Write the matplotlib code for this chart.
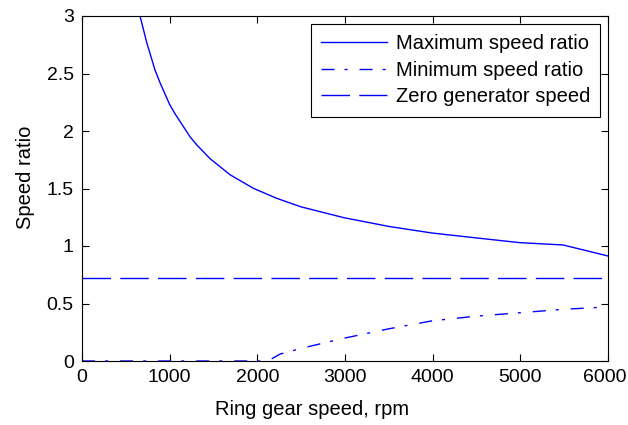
import matplotlib
matplotlib.use("Agg")
import matplotlib.pyplot as plt
from matplotlib.transforms import ScaledTranslation

plt.rcParams['font.family'] = ['Liberation Sans', 'DejaVu Sans']
plt.rcParams['font.size'] = 14.5
plt.rcParams['lines.scale_dashes'] = False

# Data
max_x = [600, 662, 738, 833, 890, 1000, 1061, 1232, 1308, 1460, 1688, 1954, 2220, 2500, 2989, 3500, 3992, 4500, 4996, 5487, 5750, 6000]
max_y = [3.3, 3.0, 2.77, 2.53, 2.42, 2.23, 2.15, 1.95, 1.88, 1.76, 1.62, 1.502, 1.415, 1.34, 1.246, 1.17, 1.113, 1.07, 1.029, 1.009, 0.96, 0.913]

min_x = [0, 1000, 2120, 2259, 2500, 3000, 3500, 4000, 4500, 5000, 5500, 6000]
min_y = [0, 0, 0, 0.06, 0.11, 0.2, 0.28, 0.35, 0.39, 0.42, 0.45, 0.47]

zero_x = [0, 6000]
zero_y = [0.722, 0.722]

labels = ['Maximum speed ratio', 'Minimum speed ratio', 'Zero generator speed']
xticks = [0, 1000, 2000, 3000, 4000, 5000, 6000]
yticks = [0, 0.5, 1, 1.5, 2, 2.5, 3]
ytick_labels = ['0', '0.5', '1', '1.5', '2', '2.5', '3']

fig = plt.figure(figsize=(6.28, 4.25), dpi=100)
ax = fig.add_axes([82/628, 1 - 361/425, (608-82)/628, (361-16)/425])

lw = 1.0
ax.plot(max_x, max_y, color='blue', lw=lw, label=labels[0])
ax.plot(min_x, min_y, color='blue', lw=lw, dashes=(9.4, 7.2, 2.2, 8.6), label=labels[1])
ax.plot(zero_x, zero_y, color='blue', lw=lw, dashes=(20.5, 6.7), label=labels[2])

ax.set_xlim(0, 6000)
ax.set_ylim(0, 3)
ax.set_xticks(xticks)
ax.set_xticklabels([str(t) for t in xticks])
ax.set_yticks(yticks)
ax.set_yticklabels(ytick_labels)
ax.tick_params(direction='in', top=True, right=True, length=5, width=0.8, labelsize=14)
ax.tick_params(axis='x', pad=6)
ax.tick_params(axis='y', pad=6)
for s in ax.spines.values():
    s.set_linewidth(0.8)

# nudge the last x tick label so it stays inside the figure
last = ax.get_xticklabels()[-1]
last.set_transform(last.get_transform() + ScaledTranslation(-3/100, 0, fig.dpi_scale_trans))

ax.set_xlabel('Ring gear speed, rpm', labelpad=10)
ax.xaxis.label.set_x(0.437)
ax.set_ylabel('Speed ratio', labelpad=8.3)
ax.yaxis.label.set_y(0.533)

leg = ax.legend(loc='upper right', fancybox=False, shadow=False, framealpha=1,
                edgecolor='black', handlelength=3.3, borderaxespad=0.4,
                labelspacing=0.38, handletextpad=0.4, borderpad=0.5)
leg.get_frame().set_linewidth(0.8)

fig.savefig('out.png', dpi=100)
